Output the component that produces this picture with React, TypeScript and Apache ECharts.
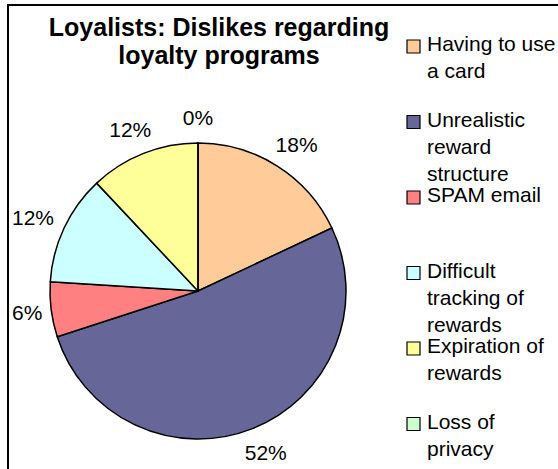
import React, { useEffect, useRef } from "react";
import * as echarts from "echarts";

const categories = [
  "Having to use a card",
  "Unrealistic reward structure",
  "SPAM email",
  "Difficult tracking of rewards",
  "Expiration of rewards",
  "Loss of privacy",
];
const legendLines = [
  "Having to use\na card",
  "Unrealistic\nreward\nstructure",
  "SPAM email",
  "Difficult\ntracking of\nrewards",
  "Expiration of\nrewards",
  "Loss of\nprivacy",
];
const values = [18, 52, 6, 12, 12, 0];
const colors = ["#FFCC99", "#666699", "#FF8080", "#CCFFFF", "#FFFF99", "#CCFFCC"];
const titleText = "Loyalists: Dislikes regarding\nloyalty programs";

const FONT = "'Liberation Sans', Arial, sans-serif";
const CX = 198;
const CY = 291;
const R = 148;
const GAP = 15;
const FRAME_X = 8;

export default function App() {
  const ref = useRef<HTMLDivElement>(null);
  useEffect(() => {
    document.body.style.margin = "0";
    const chart = echarts.init(ref.current!, null, { renderer: "svg" });
    const total = values.reduce((a, b) => a + b, 0);
    const mids: number[] = [];
    let cum = 0;
    values.forEach((v) => {
      mids.push(((cum + v / 2) / total) * Math.PI * 2);
      cum += v;
    });
    const legendGraphics: any[] = [];
    legendLines.forEach((t, i) => {
      const top = 30 + i * 75.5;
      legendGraphics.push({
        type: "rect",
        shape: { x: 407, y: top + 10, width: 13, height: 13 },
        style: { fill: colors[i], stroke: "#000", lineWidth: 1.2 },
      });
      legendGraphics.push({
        type: "text",
        x: 427,
        y: top,
        style: {
          text: t,
          fill: "#000",
          font: `21px ${FONT}`,
          lineHeight: 27,
          textAlign: "left",
          textVerticalAlign: "top",
        },
      });
    });
    chart.setOption({
      animation: false,
      backgroundColor: "#fff",
      graphic: [
        {
          type: "rect",
          shape: { x: FRAME_X, y: 5, width: 700, height: 600 },
          style: { fill: "none", stroke: "#000", lineWidth: 2 },
        },
        {
          type: "text",
          x: 219,
          y: 13,
          style: {
            text: titleText,
            fill: "#000",
            font: `bold 25px ${FONT}`,
            lineHeight: 28,
            textAlign: "center",
            textVerticalAlign: "top",
          },
        },
        ...legendGraphics,
      ],
      series: [
        {
          type: "pie",
          center: [CX, CY],
          radius: R,
          startAngle: 90,
          clockwise: true,
          avoidLabelOverlap: false,
          data: categories.map((c, i) => ({
            name: c,
            value: values[i],
            itemStyle: { color: colors[i] },
          })),
          itemStyle: { borderColor: "#000", borderWidth: 1.5 },
          label: {
            show: true,
            position: "outside",
            formatter: "{c}%",
            color: "#000",
            fontFamily: FONT,
            fontSize: 21,
          },
          labelLine: { show: false, length: 14, length2: 0 },
          labelLayout: (p: any) => {
            const a = mids[p.dataIndex];
            const dx = Math.sin(a);
            const dy = -Math.cos(a);
            const hw = p.labelRect.width / 2;
            const hh = p.labelRect.height / 2;
            const x = Math.max(FRAME_X + 4 + hw, CX + dx * (R + GAP) + dx * hw);
            return {
              x,
              y: CY + dy * (R + GAP) + dy * hh,
              align: "center",
              verticalAlign: "middle",
            };
          },
          emphasis: { disabled: true },
        },
      ],
    });
    return () => chart.dispose();
  }, []);
  return <div ref={ref} style={{ width: 558, height: 469 }} />;
}
